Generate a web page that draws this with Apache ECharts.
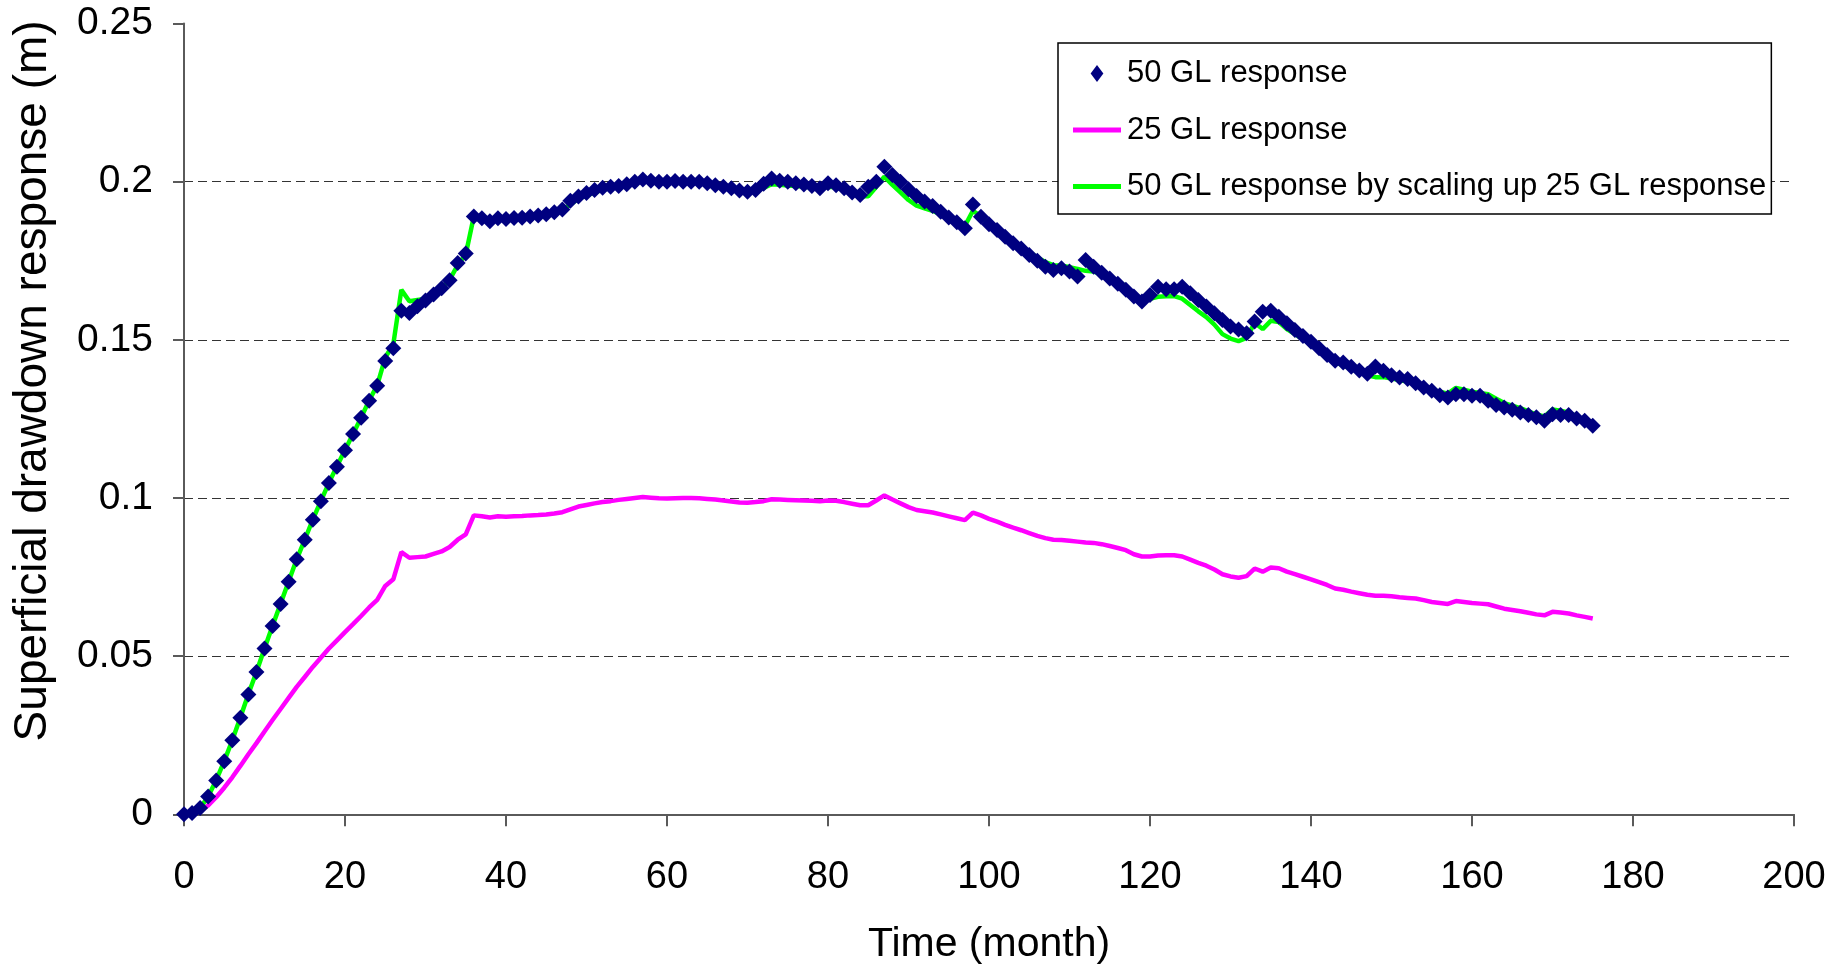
<!DOCTYPE html>
<html>
<head>
<meta charset="utf-8">
<title>Superficial drawdown response</title>
<script src="https://cdn.jsdelivr.net/npm/echarts@6/dist/echarts.min.js"></script>
<style>
  html, body { margin: 0; padding: 0; background: #fff; }
  #chart { width: 1845px; height: 965px; }
</style>
</head>
<body>
<div id="chart"></div>
<script>
// monthly values, index = month (0..175)
var gl50 = [
  0, 0.0004, 0.002, 0.0056, 0.0107, 0.0168, 0.0234, 0.0305, 0.0379, 0.045,
  0.0524, 0.0595, 0.0665, 0.0735, 0.0806, 0.0868, 0.0931, 0.099, 0.1047, 0.1099,
  0.1151, 0.1202, 0.1254, 0.1307, 0.1355, 0.1433, 0.1473, 0.1592, 0.1585, 0.1606,
  0.1624, 0.1643, 0.1663, 0.1688, 0.1743, 0.1773, 0.189, 0.1884, 0.1875, 0.1884,
  0.1882, 0.1885, 0.1886, 0.189, 0.1893, 0.1897, 0.1903, 0.1912, 0.194, 0.1953,
  0.1964, 0.1974, 0.1981, 0.1984, 0.1986, 0.1992, 0.2, 0.2007, 0.2003, 0.2,
  0.2, 0.2002, 0.2, 0.2, 0.2, 0.1995, 0.1989, 0.1984, 0.1979, 0.1972,
  0.1968, 0.1974, 0.1993, 0.201, 0.2003, 0.2, 0.1995, 0.1991, 0.1986, 0.1979,
  0.1995, 0.1989, 0.1979, 0.1966, 0.1958, 0.1984, 0.2, 0.2047, 0.2021, 0.2,
  0.1976, 0.1955, 0.1937, 0.1923, 0.1905, 0.1887, 0.1872, 0.1853, 0.1928, 0.1889,
  0.1865, 0.1847, 0.1826, 0.1805, 0.1789, 0.1768, 0.175, 0.1731, 0.1721, 0.1726,
  0.1716, 0.17, 0.1752, 0.1731, 0.1712, 0.1694, 0.1677, 0.1658, 0.1637, 0.1621,
  0.1642, 0.1668, 0.166, 0.166, 0.1668, 0.1647, 0.1626, 0.1605, 0.1584, 0.1563,
  0.1542, 0.1533, 0.1521, 0.1558, 0.1589, 0.1592, 0.1573, 0.1552, 0.1531, 0.1512,
  0.1494, 0.1473, 0.1452, 0.1434, 0.1428, 0.1415, 0.1403, 0.1393, 0.1416, 0.1402,
  0.1388, 0.1381, 0.1376, 0.1363, 0.1349, 0.1339, 0.1325, 0.1318, 0.1328, 0.1328,
  0.1323, 0.1323, 0.1307, 0.1294, 0.1286, 0.1279, 0.127, 0.1262, 0.1255, 0.1244,
  0.1265, 0.1262, 0.1262, 0.1251, 0.1244, 0.1228
];

var gl25 = [
  0, 0.0002, 0.001, 0.0028, 0.0054, 0.0084, 0.0117, 0.0153, 0.019, 0.0225,
  0.0262, 0.0298, 0.0333, 0.0368, 0.0403, 0.0434, 0.0466, 0.0495, 0.0524, 0.055,
  0.0576, 0.0601, 0.0627, 0.0654, 0.0678, 0.0722, 0.0743, 0.0829, 0.0811, 0.0813,
  0.0815, 0.0823, 0.0831, 0.0845, 0.0868, 0.0885, 0.0945, 0.0942, 0.0938, 0.0942,
  0.0941, 0.0942, 0.0943, 0.0945, 0.0946, 0.0948, 0.0951, 0.0955, 0.0964, 0.0973,
  0.0978, 0.0983, 0.0987, 0.099, 0.0994, 0.0997, 0.1, 0.1003, 0.1001, 0.0999,
  0.0998, 0.0999, 0.1, 0.1, 0.0999, 0.0997, 0.0995, 0.0992, 0.0989, 0.0986,
  0.0985, 0.0987, 0.099, 0.0996, 0.0995, 0.0994, 0.0993, 0.0992, 0.0991, 0.099,
  0.0992, 0.0991, 0.0987, 0.0982, 0.0977, 0.0977, 0.0992, 0.1008, 0.0995, 0.0983,
  0.0971, 0.0962, 0.0958, 0.0954, 0.0948, 0.0942, 0.0936, 0.093, 0.0954, 0.0945,
  0.0934, 0.0925, 0.0915, 0.0906, 0.0898, 0.0889, 0.088, 0.0873, 0.0868, 0.0867,
  0.0865, 0.0862, 0.0859, 0.0858, 0.0854, 0.0848, 0.0842, 0.0835, 0.0822, 0.0815,
  0.0815, 0.0818, 0.0819, 0.0819, 0.0815, 0.0805, 0.0795, 0.0786, 0.0774, 0.0759,
  0.0752, 0.0748, 0.0753, 0.0777, 0.0767, 0.078, 0.0778, 0.0767, 0.0759, 0.0751,
  0.0743, 0.0734, 0.0725, 0.0714, 0.071, 0.0704, 0.0699, 0.0694, 0.0691, 0.0691,
  0.0689, 0.0686, 0.0684, 0.0682, 0.0677, 0.0671, 0.0668, 0.0665, 0.0674, 0.0671,
  0.0668, 0.0666, 0.0664, 0.0657, 0.065, 0.0646, 0.0642, 0.0637, 0.0632, 0.0629,
  0.064, 0.0638, 0.0635, 0.0629, 0.0624, 0.0619
];

var gl50Scaled = [
  0, 0.0004, 0.002, 0.0056, 0.0108, 0.0168, 0.0234, 0.0306, 0.038, 0.045,
  0.0524, 0.0596, 0.0666, 0.0736, 0.0806, 0.0868, 0.0932, 0.099, 0.1048, 0.11,
  0.1152, 0.1202, 0.1254, 0.1308, 0.1356, 0.1444, 0.1486, 0.1658, 0.1622, 0.1626,
  0.163, 0.1646, 0.1662, 0.169, 0.1736, 0.177, 0.189, 0.1884, 0.1876, 0.1884,
  0.1882, 0.1884, 0.1886, 0.189, 0.1892, 0.1896, 0.1902, 0.191, 0.1928, 0.1946,
  0.1956, 0.1966, 0.1974, 0.198, 0.1988, 0.1994, 0.2, 0.2006, 0.2002, 0.1998,
  0.1996, 0.1998, 0.2, 0.2, 0.1998, 0.1994, 0.199, 0.1984, 0.1978, 0.1972,
  0.197, 0.1974, 0.198, 0.1992, 0.199, 0.1988, 0.1986, 0.1984, 0.1982, 0.198,
  0.1984, 0.1982, 0.1974, 0.1964, 0.1954, 0.1954, 0.1984, 0.2016, 0.199, 0.1966,
  0.1942, 0.1924, 0.1916, 0.1908, 0.1896, 0.1884, 0.1872, 0.186, 0.1908, 0.189,
  0.1868, 0.185, 0.183, 0.1812, 0.1796, 0.1778, 0.176, 0.1746, 0.1736, 0.1734,
  0.173, 0.1724, 0.1718, 0.1716, 0.1708, 0.1696, 0.1684, 0.167, 0.1644, 0.163,
  0.163, 0.1636, 0.1638, 0.1638, 0.163, 0.161, 0.159, 0.1572, 0.1548, 0.1518,
  0.1504, 0.1496, 0.1506, 0.1554, 0.1534, 0.156, 0.1556, 0.1534, 0.1518, 0.1502,
  0.1486, 0.1468, 0.145, 0.1428, 0.142, 0.1408, 0.1398, 0.1388, 0.1382, 0.1382,
  0.1378, 0.1372, 0.1368, 0.1364, 0.1354, 0.1342, 0.1336, 0.133, 0.1348, 0.1342,
  0.1336, 0.1332, 0.1328, 0.1314, 0.13, 0.1292, 0.1284, 0.1274, 0.1264, 0.1258,
  0.128, 0.1276, 0.127, 0.1258, 0.1248, 0.1238
];

var seriesNames = ['50 GL response', '25 GL response', '50 GL response by scaling up 25 GL response'];

function toPoints(arr) {
    return arr.map(function (v, month) { return [month, v]; });
}

var fontName = '"Liberation Sans", Arial, sans-serif';
var diamondIcon = 'path://M6,0L12,8L6,16L0,8Z';
var lineIcon = 'path://M0,0L48,0L48,5L0,5Z';

var myChart = echarts.init(document.getElementById('chart'));
option = {
    backgroundColor: '#fff',
    animation: false,
    textStyle: { fontFamily: fontName },
    grid: {
        left: 184,
        right: 51,
        top: 23.5,
        bottom: 150.7,
        containLabel: false,
        outerBoundsMode: 'none'
    },
    legend: {
        orient: 'vertical',
        left: 1058,
        top: 43,
        padding: [15, 5, 12, 15],
        itemGap: 25.5,
        itemWidth: 48,
        itemHeight: 17,
        symbolKeepAspect: true,
        backgroundColor: '#fff',
        borderColor: '#000',
        borderWidth: 1.5,
        borderRadius: 0,
        textStyle: {
            fontFamily: fontName,
            fontSize: 31,
            lineHeight: 31,
            color: '#000',
            padding: [0, 0, 0, 1]
        },
        data: [
            { name: seriesNames[0], icon: diamondIcon, itemStyle: { color: '#000080', opacity: 1 } },
            { name: seriesNames[1], icon: lineIcon, itemStyle: { color: '#ff00ff' } },
            { name: seriesNames[2], icon: lineIcon, itemStyle: { color: '#00ff00' } }
        ]
    },
    xAxis: {
        type: 'value',
        min: 0,
        max: 200,
        interval: 20,
        name: 'Time (month)',
        nameLocation: 'middle',
        nameGap: 110,
        nameTextStyle: { fontFamily: fontName, fontSize: 41, color: '#000' },
        axisLine: { lineStyle: { color: '#5a5a5a', width: 2 } },
        axisTick: { show: true, inside: false, length: 12, lineStyle: { color: '#5a5a5a', width: 2 } },
        axisLabel: { fontFamily: fontName, fontSize: 38, color: '#000', margin: 44 },
        splitLine: { show: false }
    },
    yAxis: {
        type: 'value',
        min: 0,
        max: 0.25,
        interval: 0.05,
        name: 'Superficial drawdown response (m)',
        nameLocation: 'middle',
        nameRotate: 90,
        nameGap: 128,
        nameTextStyle: {
            fontFamily: fontName,
            fontSize: 46,
            color: '#000',
            padding: [0, 0, 0, 76]
        },
        axisLine: { show: true, lineStyle: { color: '#5a5a5a', width: 2 } },
        axisTick: { show: true, inside: false, length: 11, lineStyle: { color: '#5a5a5a', width: 2 } },
        axisLabel: { fontFamily: fontName, fontSize: 39, color: '#000', margin: 31 },
        splitLine: {
            show: true,
            showMinLine: false,
            showMaxLine: false,
            lineStyle: { color: '#333', width: 1, type: [9, 5] }
        }
    },
    series: [
        {
            name: seriesNames[1],
            type: 'line',
            data: toPoints(gl25),
            symbol: 'none',
            lineStyle: { color: '#ff00ff', width: 4.5 },
            itemStyle: { color: '#ff00ff' },
            z: 2
        },
        {
            name: seriesNames[2],
            type: 'line',
            data: toPoints(gl50Scaled),
            symbol: 'none',
            lineStyle: { color: '#00ff00', width: 4.5 },
            itemStyle: { color: '#00ff00' },
            z: 3
        },
        {
            name: seriesNames[0],
            type: 'scatter',
            data: toPoints(gl50),
            symbol: 'diamond',
            symbolSize: 16,
            itemStyle: { color: '#000080', opacity: 1 },
            z: 4
        }
    ]
};
myChart.setOption(option);
</script>
</body>
</html>
